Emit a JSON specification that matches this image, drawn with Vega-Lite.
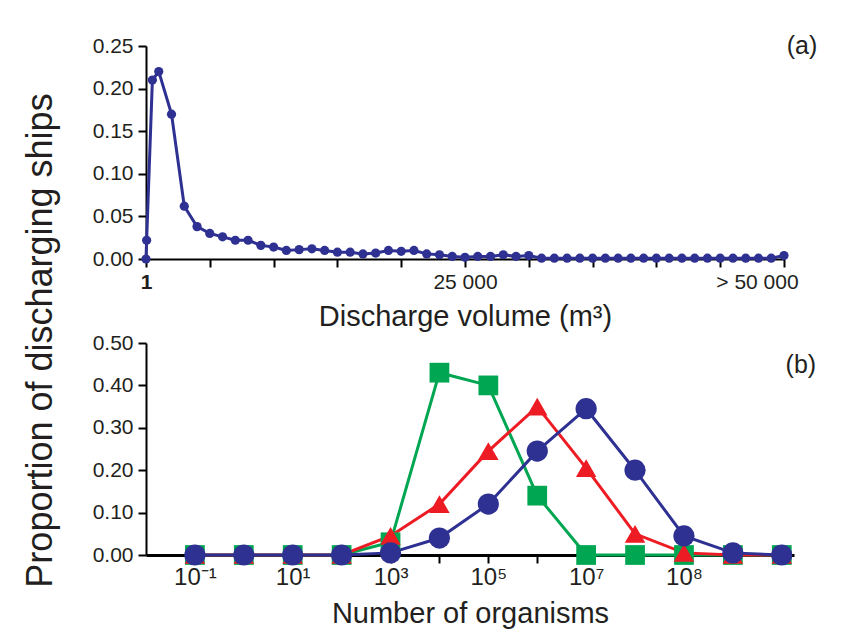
{
  "$schema": "https://vega.github.io/schema/vega-lite/v6.json",
  "background": "white",
  "padding": {"left": 21, "top": 34, "right": 5, "bottom": 5},
  "bounds": "flush",
  "spacing": 84,
  "config": {
    "view": {"stroke": null},
    "font": "Liberation Sans",
    "axis": {
      "domainColor": "black", "domainWidth": 2, "tickColor": "black", "tickWidth": 2, "tickSize": 8,
      "labelColor": "#231f20", "titleColor": "#231f20", "grid": false,
      "labelFont": "Liberation Sans", "titleFont": "Liberation Sans", "titleFontWeight": "normal"
    }
  },
  "vconcat": [
    {
      "width": 638,
      "height": 213,
      "layer": [
        {
          "data": {"name": "discharge", "values": [
            {"volume": 0, "proportion": 0},
            {"volume": 50, "proportion": 0.022},
            {"volume": 500, "proportion": 0.21},
            {"volume": 1000, "proportion": 0.22},
            {"volume": 2000, "proportion": 0.17},
            {"volume": 3000, "proportion": 0.062},
            {"volume": 4000, "proportion": 0.038},
            {"volume": 5000, "proportion": 0.03},
            {"volume": 6000, "proportion": 0.026},
            {"volume": 7000, "proportion": 0.022},
            {"volume": 8000, "proportion": 0.022},
            {"volume": 9000, "proportion": 0.016},
            {"volume": 10000, "proportion": 0.014},
            {"volume": 11000, "proportion": 0.01},
            {"volume": 12000, "proportion": 0.011},
            {"volume": 13000, "proportion": 0.012},
            {"volume": 14000, "proportion": 0.01},
            {"volume": 15000, "proportion": 0.008},
            {"volume": 16000, "proportion": 0.008},
            {"volume": 17000, "proportion": 0.006},
            {"volume": 18000, "proportion": 0.007},
            {"volume": 19000, "proportion": 0.01},
            {"volume": 20000, "proportion": 0.009},
            {"volume": 21000, "proportion": 0.01},
            {"volume": 22000, "proportion": 0.006},
            {"volume": 23000, "proportion": 0.005},
            {"volume": 24000, "proportion": 0.003},
            {"volume": 25000, "proportion": 0.002},
            {"volume": 26000, "proportion": 0.003},
            {"volume": 27000, "proportion": 0.003},
            {"volume": 28000, "proportion": 0.005},
            {"volume": 29000, "proportion": 0.003},
            {"volume": 30000, "proportion": 0.004},
            {"volume": 31000, "proportion": 0.001},
            {"volume": 32000, "proportion": 0.001},
            {"volume": 33000, "proportion": 0.001},
            {"volume": 34000, "proportion": 0.001},
            {"volume": 35000, "proportion": 0.001},
            {"volume": 36000, "proportion": 0.001},
            {"volume": 37000, "proportion": 0.001},
            {"volume": 38000, "proportion": 0.001},
            {"volume": 39000, "proportion": 0.001},
            {"volume": 40000, "proportion": 0.001},
            {"volume": 41000, "proportion": 0.001},
            {"volume": 42000, "proportion": 0.001},
            {"volume": 43000, "proportion": 0.001},
            {"volume": 44000, "proportion": 0.001},
            {"volume": 45000, "proportion": 0.001},
            {"volume": 46000, "proportion": 0.001},
            {"volume": 47000, "proportion": 0.001},
            {"volume": 48000, "proportion": 0.001},
            {"volume": 49000, "proportion": 0.001},
            {"volume": 50000, "proportion": 0.004}
          ]},
          "encoding": {
            "x": {
              "field": "volume", "type": "quantitative",
              "scale": {"domain": [0, 50000], "nice": false},
              "axis": {
                "title": "Discharge volume (m³)", "titleFontSize": 29, "titlePadding": 10,
                "values": [0, 5000, 10000, 15000, 20000, 25000, 30000, 35000, 40000, 45000, 50000],
                "labelExpr": "datum.value == 0 ? '1' : datum.value == 25000 ? '25 000' : datum.value == 50000 ? '> 50 000' : ''",
                "labelFontSize": 21, "labelPadding": 4, "labelFlush": false, "labelOverlap": false,
                "labelOffset": {"condition": {"test": "datum.value == 50000", "value": -27}, "value": 0},
                "labelFontWeight": {"condition": {"test": "datum.value == 0", "value": "bold"}, "value": "normal"}
              }
            },
            "y": {
              "field": "proportion", "type": "quantitative",
              "scale": {"domain": [0, 0.25], "nice": false},
              "axis": {"title": null, "values": [0, 0.05, 0.1, 0.15, 0.2, 0.25], "format": ".2f", "labelFontSize": 21, "labelPadding": 5}
            }
          },
          "layer": [
            {"mark": {"type": "line", "color": "#2e3192", "strokeWidth": 3}},
            {"mark": {"type": "point", "filled": true, "color": "#2e3192", "size": 85, "opacity": 1}}
          ]
        },
        {
          "data": {"values": [{"panel": "(a)"}]},
          "mark": {"type": "text", "fontSize": 25, "align": "center", "baseline": "middle", "color": "#231f20"},
          "encoding": {
            "x": {"datum": 51410},
            "y": {"datum": 0.25},
            "text": {"field": "panel", "type": "nominal"}
          }
        }
      ]
    },
    {
      "width": 648,
      "height": 212,
      "layer": [
        {
          "data": {"name": "organisms", "values": [
            {"bin": 0, "series": "Green", "proportion": 0},
            {"bin": 1, "series": "Green", "proportion": 0},
            {"bin": 2, "series": "Green", "proportion": 0},
            {"bin": 3, "series": "Green", "proportion": 0},
            {"bin": 4, "series": "Green", "proportion": 0.03},
            {"bin": 5, "series": "Green", "proportion": 0.43},
            {"bin": 6, "series": "Green", "proportion": 0.4},
            {"bin": 7, "series": "Green", "proportion": 0.14},
            {"bin": 8, "series": "Green", "proportion": 0},
            {"bin": 9, "series": "Green", "proportion": 0},
            {"bin": 10, "series": "Green", "proportion": 0},
            {"bin": 11, "series": "Green", "proportion": 0},
            {"bin": 12, "series": "Green", "proportion": 0},
            {"bin": 0, "series": "Red", "proportion": 0},
            {"bin": 1, "series": "Red", "proportion": 0},
            {"bin": 2, "series": "Red", "proportion": 0},
            {"bin": 3, "series": "Red", "proportion": 0},
            {"bin": 4, "series": "Red", "proportion": 0.045},
            {"bin": 5, "series": "Red", "proportion": 0.12},
            {"bin": 6, "series": "Red", "proportion": 0.245},
            {"bin": 7, "series": "Red", "proportion": 0.35},
            {"bin": 8, "series": "Red", "proportion": 0.205},
            {"bin": 9, "series": "Red", "proportion": 0.05},
            {"bin": 10, "series": "Red", "proportion": 0.005},
            {"bin": 11, "series": "Red", "proportion": 0},
            {"bin": 12, "series": "Red", "proportion": 0},
            {"bin": 0, "series": "Blue", "proportion": 0},
            {"bin": 1, "series": "Blue", "proportion": 0},
            {"bin": 2, "series": "Blue", "proportion": 0},
            {"bin": 3, "series": "Blue", "proportion": 0},
            {"bin": 4, "series": "Blue", "proportion": 0.005},
            {"bin": 5, "series": "Blue", "proportion": 0.04},
            {"bin": 6, "series": "Blue", "proportion": 0.12},
            {"bin": 7, "series": "Blue", "proportion": 0.245},
            {"bin": 8, "series": "Blue", "proportion": 0.345},
            {"bin": 9, "series": "Blue", "proportion": 0.2},
            {"bin": 10, "series": "Blue", "proportion": 0.045},
            {"bin": 11, "series": "Blue", "proportion": 0.005},
            {"bin": 12, "series": "Blue", "proportion": 0}
          ]},
          "encoding": {
            "x": {
              "field": "bin", "type": "quantitative",
              "scale": {"domain": [-1, 12.25], "nice": false, "zero": false},
              "axis": {
                "title": "Number of organisms", "titleFontSize": 29, "titlePadding": 10,
                "values": [0, 1, 2, 3, 4, 5, 6, 7, 8, 9, 10, 11, 12],
                "labelExpr": "datum.value == 0 ? '10⁻¹' : datum.value == 2 ? '10¹' : datum.value == 4 ? '10³' : datum.value == 6 ? '10⁵' : datum.value == 8 ? '10⁷' : datum.value == 10 ? '10⁸' : ''",
                "labelFontSize": 24, "labelPadding": 2, "labelFlush": false, "labelOverlap": false,
                "domainWidth": 3,
                "encode": {"labels": {"update": {"dx": {"signal": "datum.value == 0 ? -7 : datum.value == 2 ? 8 : datum.value == 4 ? 13 : datum.value == 6 ? 5 : datum.value == 8 ? 8 : 5"}}}}
              }
            },
            "y": {
              "field": "proportion", "type": "quantitative",
              "scale": {"domain": [0, 0.5], "nice": false},
              "axis": {
                "title": "Proportion of discharging ships", "titleFontSize": 36, "titleX": -87, "titleY": -3,
                "values": [0, 0.1, 0.2, 0.3, 0.4, 0.5], "format": ".2f", "labelFontSize": 21, "labelPadding": 5
              }
            },
            "color": {"field": "series", "type": "nominal", "scale": {"domain": ["Green", "Red", "Blue"], "range": ["#00a651", "#ed1c24", "#2e3192"]}, "legend": null}
          },
          "layer": [
            {"mark": {"type": "line", "strokeWidth": 3}},
            {
              "mark": {"type": "point", "filled": true, "opacity": 1},
              "encoding": {
                "shape": {"field": "series", "type": "nominal", "scale": {"domain": ["Green", "Red", "Blue"], "range": ["square", "triangle-up", "circle"]}, "legend": null},
                "size": {"field": "series", "type": "nominal", "scale": {"domain": ["Green", "Red", "Blue"], "range": [390, 450, 480]}, "legend": null}
              }
            }
          ]
        },
        {
          "data": {"values": [{"panel": "(b)"}]},
          "mark": {"type": "text", "fontSize": 25, "align": "center", "baseline": "middle", "color": "#231f20"},
          "encoding": {
            "x": {"datum": 12.39},
            "y": {"datum": 0.448},
            "text": {"field": "panel", "type": "nominal"}
          }
        }
      ]
    }
  ]
}
